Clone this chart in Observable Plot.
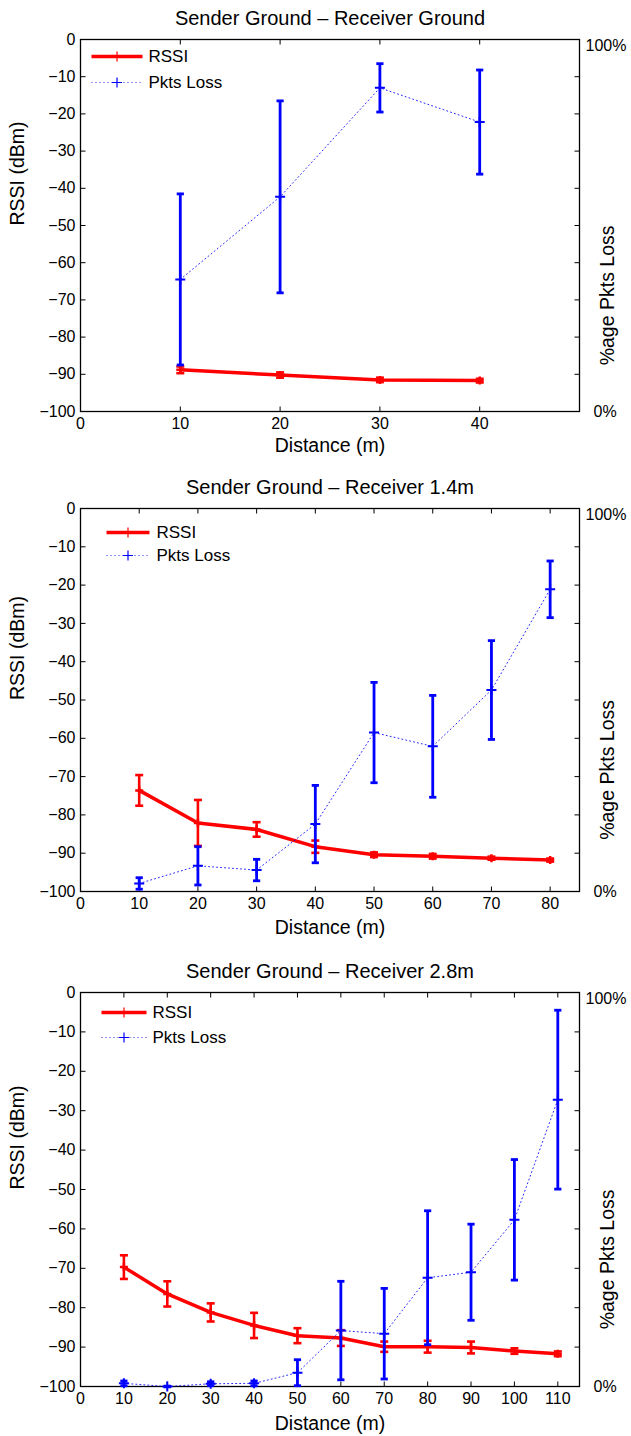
<!DOCTYPE html>
<html>
<head>
<meta charset="utf-8">
<script src="https://cdn.jsdelivr.net/npm/d3@7"></script>
<script src="https://cdn.jsdelivr.net/npm/@observablehq/plot@0.6"></script>
<style>
  body { margin: 0; background: #fff; }
  #charts svg { display: block; }
</style>
</head>
<body>
<div id="charts"></div>
<script>
// ---------- data ----------
const yTicks = [0, -10, -20, -30, -40, -50, -60, -70, -80, -90, -100];
const pctTicks = [0, 100];

const titles = [
  "Sender Ground \u2013 Receiver Ground",
  "Sender Ground \u2013 Receiver 1.4m",
  "Sender Ground \u2013 Receiver 2.8m"
];
const xLabel = "Distance (m)";
const yLabel = "RSSI (dBm)";
const y2Label = "%age Pkts Loss";
const seriesNames = ["RSSI", "Pkts Loss"];

const xDomain1 = [0, 50];
const xTicks1 = [0, 10, 20, 30, 40];
const dist1 = [10, 20, 30, 40];
const rssi1 = [-88.8, -90.2, -91.5, -91.7];
const rssiErr1 = [0.9, 0.7, 0.6, 0.5];
const loss1 = [35.5, 57.7, 87.0, 77.8];     // % packets lost
const lossErr1 = [23.0, 25.8, 6.5, 14.0];

const xDomain2 = [0, 85];
const xTicks2 = [0, 10, 20, 30, 40, 50, 60, 70, 80];
const dist2 = [10, 20, 30, 40, 50, 60, 70, 80];
const rssi2 = [-73.6, -82.1, -83.8, -88.3, -90.4, -90.8, -91.3, -91.8];
const rssiErr2 = [4.0, 6.0, 1.9, 1.6, 0.6, 0.6, 0.4, 0.4];
const loss2 = [2.1, 6.7, 5.6, 17.6, 41.5, 37.9, 52.6, 78.9];
const lossErr2 = [1.5, 5.0, 2.8, 10.1, 13.1, 13.3, 12.9, 7.4];

const xDomain3 = [0, 115];
const xTicks3 = [0, 10, 20, 30, 40, 50, 60, 70, 80, 90, 100, 110];
const dist3 = [10, 20, 30, 40, 50, 60, 70, 80, 90, 100, 110];
const rssi3 = [-69.7, -76.5, -81.2, -84.5, -87.1, -87.7, -89.9, -89.9, -90.1, -91.0, -91.7];
const rssiErr3 = [3.0, 3.2, 2.3, 3.2, 1.9, 2.0, 1.3, 1.5, 1.5, 0.7, 0.6];
const loss3 = [0.8, 0.0, 0.7, 0.8, 3.5, 14.2, 13.4, 27.6, 29.0, 42.3, 72.8];
const lossErr3 = [0.6, 0.1, 0.5, 0.6, 3.3, 12.5, 11.5, 17.0, 12.2, 15.3, 22.7];

// ---------- layout (styles / sizes) ----------
const W = 631, ML = 80, MR = 52, MT = 39;
const layouts = [
  {height: 469, mb: 58, xlabDy: 34, lg: {x0: 11, len: 51, tx: 68, r1: 17, r2: 43}},
  {height: 484, mb: 62, xlabDy: 36, lg: {x0: 26, len: 43, tx: 76, r1: 24, r2: 47}},
  {height: 483, mb: 50, xlabDy: 37, lg: {x0: 21, len: 45, tx: 72, r1: 20, r2: 45}}
];
const panels = [
  {title: titles[0], xDomain: xDomain1, xTicks: xTicks1, dist: dist1, rssi: rssi1, rssiErr: rssiErr1, loss: loss1, lossErr: lossErr1},
  {title: titles[1], xDomain: xDomain2, xTicks: xTicks2, dist: dist2, rssi: rssi2, rssiErr: rssiErr2, loss: loss2, lossErr: lossErr2},
  {title: titles[2], xDomain: xDomain3, xTicks: xTicks3, dist: dist3, rssi: rssi3, rssiErr: rssiErr3, loss: loss3, lossErr: lossErr3}
];

// secondary axis: 0–100 % mapped onto the same frame as −100…0 dBm
const pctToY = p => p - 100;

const RED = "#ff0000", BLUE = "#0000ff";
const DOT_DASH = "1,3";
const FONT = "'Liberation Sans', Arial, Helvetica, sans-serif";

// custom path symbols
const seg = (x1, y1, x2, y2) => ({draw(c) { c.moveTo(x1, y1); c.lineTo(x2, y2); }});
const hline = h => seg(-h, 0, h, 0);
const plus = h => ({draw(c) { c.moveTo(-h, 0); c.lineTo(h, 0); c.moveTo(0, -h); c.lineTo(0, h); }});
const TK = 5;

function makePanel(p, L) {
  const rows = p.dist.map((x, i) => ({
    x, r: p.rssi[i], re: p.rssiErr[i], l: pctToY(p.loss[i]), le: p.lossErr[i]
  }));
  const lg = L.lg;
  const lgCx = lg.x0 + lg.len / 2;
  return Plot.plot({
    width: W, height: L.height,
    marginLeft: ML, marginRight: MR, marginTop: MT, marginBottom: L.mb,
    x: {domain: p.xDomain},
    y: {domain: [-100, 0]},
    style: {background: "#fff", fontFamily: FONT, fontSize: "16px", color: "#000", overflow: "visible"},
    marks: [
      // inward tick marks on all four sides
      Plot.dot(yTicks, {y: d => d, frameAnchor: "left", symbol: seg(0, 0, TK, 0), stroke: "#000", strokeWidth: 1, fill: "none"}),
      Plot.dot(yTicks, {y: d => d, frameAnchor: "right", symbol: seg(0, 0, -TK, 0), stroke: "#000", strokeWidth: 1, fill: "none"}),
      Plot.dot(p.xTicks, {x: d => d, frameAnchor: "bottom", symbol: seg(0, 0, 0, -TK), stroke: "#000", strokeWidth: 1, fill: "none"}),
      Plot.dot(p.xTicks, {x: d => d, frameAnchor: "top", symbol: seg(0, 0, 0, TK), stroke: "#000", strokeWidth: 1, fill: "none"}),
      Plot.frame({stroke: "#000", strokeWidth: 1.3}),
      // axes text
      Plot.axisY({ticks: yTicks, tickSize: 0, tickPadding: 5, label: null, fontSize: 16}),
      Plot.axisX({ticks: p.xTicks, tickSize: 0, tickPadding: 6, label: null, fontSize: 16}),
      Plot.axisY({anchor: "right", ticks: [pctToY(pctTicks[1])], tickFormat: v => (v + 100) + "%", tickSize: 0, tickPadding: 6, dy: 6, label: null, fontSize: 16}),
      Plot.axisY({anchor: "right", ticks: [pctToY(pctTicks[0])], tickFormat: v => (v + 100) + "%", tickSize: 0, tickPadding: 14, label: null, fontSize: 16}),
      // labels & title
      Plot.text([yLabel], {text: d => d, frameAnchor: "left", dx: -63, rotate: -90, fontSize: 19.5}),
      Plot.text([y2Label], {text: d => d, frameAnchor: "right", dx: 28, rotate: -90, fontSize: 19.5}),
      Plot.text([xLabel], {text: d => d, frameAnchor: "bottom", dy: L.xlabDy, lineAnchor: "middle", fontSize: 19.5}),
      Plot.text([p.title], {text: d => d, frameAnchor: "top", dy: -21, lineAnchor: "middle", fontSize: 20}),
      // RSSI series
      Plot.line(rows, {x: "x", y: "r", stroke: RED, strokeWidth: 3.5}),
      Plot.ruleX(rows, {x: "x", y1: d => d.r - d.re, y2: d => d.r + d.re, stroke: RED, strokeWidth: 2.6}),
      Plot.dot(rows, {x: "x", y: d => d.r - d.re, symbol: hline(4), stroke: RED, strokeWidth: 2.6, fill: "none"}),
      Plot.dot(rows, {x: "x", y: d => d.r + d.re, symbol: hline(4), stroke: RED, strokeWidth: 2.6, fill: "none"}),
      Plot.dot(rows, {x: "x", y: "r", symbol: plus(4), stroke: RED, strokeWidth: 2.5, fill: "none"}),
      // Packet loss series (right axis)
      Plot.line(rows, {x: "x", y: "l", stroke: BLUE, strokeWidth: 1, strokeOpacity: 0.85, strokeDasharray: DOT_DASH}),
      Plot.ruleX(rows, {x: "x", y1: d => d.l - d.le, y2: d => d.l + d.le, stroke: BLUE, strokeWidth: 2.8}),
      Plot.dot(rows, {x: "x", y: d => d.l - d.le, symbol: hline(3.6), stroke: BLUE, strokeWidth: 2.8, fill: "none"}),
      Plot.dot(rows, {x: "x", y: d => d.l + d.le, symbol: hline(3.6), stroke: BLUE, strokeWidth: 2.8, fill: "none"}),
      Plot.dot(rows, {x: "x", y: "l", symbol: plus(5), stroke: BLUE, strokeWidth: 2, fill: "none"}),
      // legend
      Plot.dot([seriesNames[0]], {frameAnchor: "top-left", dx: lgCx, dy: lg.r1, symbol: hline(lg.len / 2), stroke: RED, strokeWidth: 3.5, fill: "none"}),
      Plot.dot([seriesNames[0]], {frameAnchor: "top-left", dx: lgCx, dy: lg.r1, symbol: plus(5), stroke: RED, strokeWidth: 1.2, fill: "none"}),
      Plot.text([seriesNames[0]], {text: d => d, frameAnchor: "top-left", dx: lg.tx, dy: lg.r1, textAnchor: "start", lineAnchor: "middle", fontSize: 17}),
      Plot.dot([seriesNames[1]], {frameAnchor: "top-left", dx: lgCx, dy: lg.r2, symbol: hline(lg.len / 2), stroke: BLUE, strokeWidth: 1, strokeOpacity: 0.85, strokeDasharray: DOT_DASH, fill: "none"}),
      Plot.dot([seriesNames[1]], {frameAnchor: "top-left", dx: lgCx, dy: lg.r2, symbol: plus(5), stroke: BLUE, strokeWidth: 1.2, fill: "none"}),
      Plot.text([seriesNames[1]], {text: d => d, frameAnchor: "top-left", dx: lg.tx, dy: lg.r2, textAnchor: "start", lineAnchor: "middle", fontSize: 17})
    ]
  });
}

const host = document.getElementById("charts");
panels.forEach((p, i) => host.appendChild(makePanel(p, layouts[i])));
</script>
</body>
</html>
